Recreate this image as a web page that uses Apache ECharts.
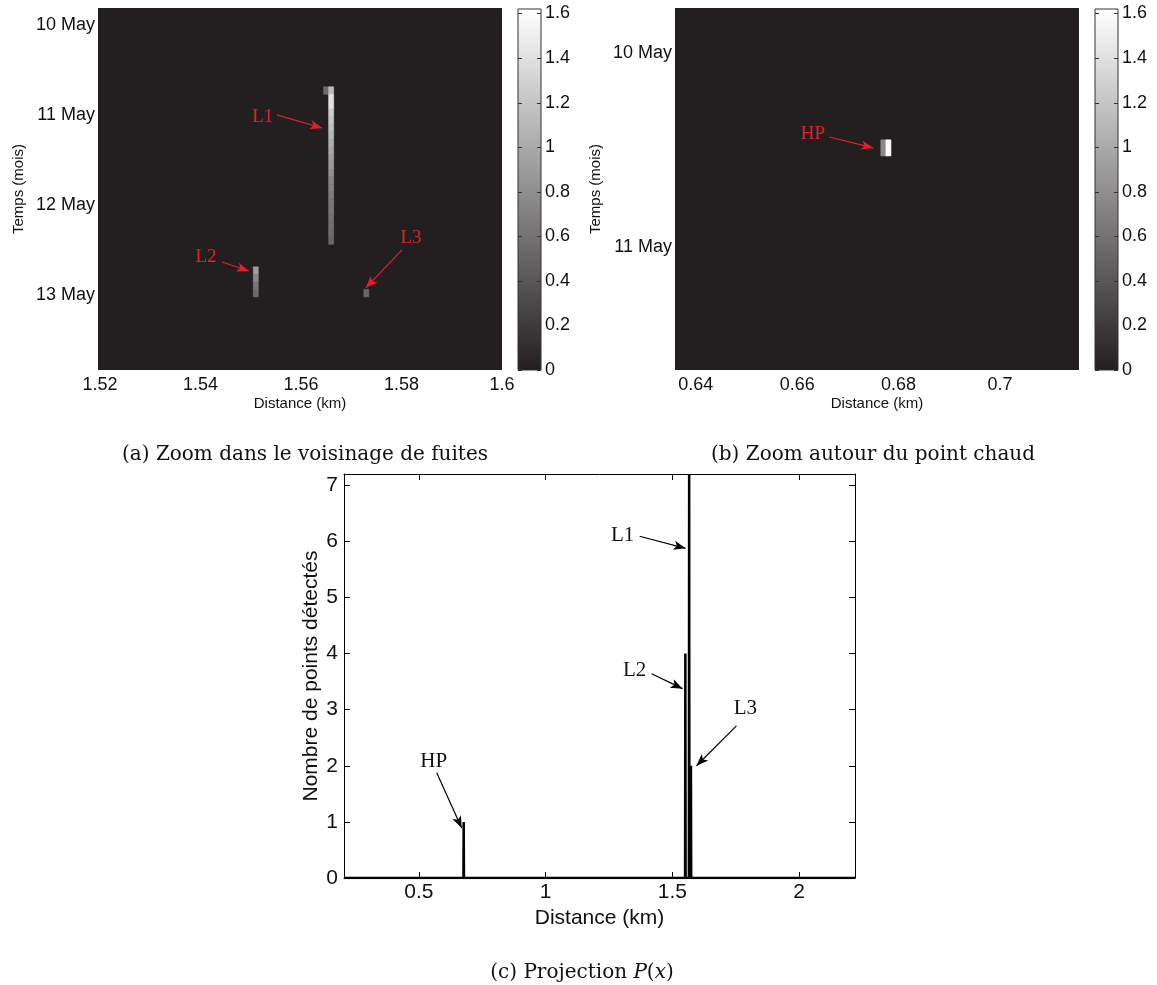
<!DOCTYPE html>
<html><head><meta charset="utf-8">
<script src="https://cdn.jsdelivr.net/npm/echarts@6/dist/echarts.min.js"></script>
<style>html,body{margin:0;padding:0;background:#fff}#c{width:1157px;height:985px}</style>
</head><body><div id="c"></div>
<script>
// ---------- Panel (a): leaks neighbourhood (distance km, start hour since 10 May 00:00, value)
const aCellDist = [1.565, 1.566, 1.566, 1.566, 1.566, 1.566, 1.566, 1.566, 1.566, 1.566, 1.566, 1.566,
  1.566, 1.566, 1.566, 1.566, 1.566, 1.566, 1.566, 1.566, 1.566, 1.566,
  1.551, 1.551, 1.551, 1.551, 1.573];
const aCellHour = [16.5, 16.5, 18.5, 20.5, 22.5, 24.5, 26.5, 28.5, 30.5, 32.5, 34.5, 36.5,
  38.5, 40.5, 42.5, 44.5, 46.5, 48.5, 50.5, 52.5, 54.5, 56.5,
  64.5, 66.5, 68.5, 70.5, 70.5];
const aCellValue = [0.55, 1.14, 1.40, 1.40, 1.27, 1.21, 1.16, 1.10, 1.04, 0.98, 0.92, 0.88,
  0.82, 0.74, 0.72, 0.68, 0.64, 0.63, 0.60, 0.57, 0.55, 0.52,
  0.92, 0.77, 0.64, 0.55, 0.52];
const aXTicks = [1.52, 1.54, 1.56, 1.58, 1.6];
const aXLabels = ['1.52', '1.54', '1.56', '1.58', '1.6'];
const aYTicks = [0, 24, 48, 72];
const aYLabels = ['10 May', '11 May', '12 May', '13 May'];

// ---------- Panel (b): hot point
const bCellDist = [0.677, 0.678];
const bCellHour = [10.75, 10.75];
const bCellValue = [0.76, 1.6];
const bXTicks = [0.64, 0.66, 0.68, 0.7];
const bXLabels = ['0.64', '0.66', '0.68', '0.7'];
const bYTicks = [0, 24];
const bYLabels = ['10 May', '11 May'];

// ---------- Colorbar
const cbTicks = [0, 0.2, 0.4, 0.6, 0.8, 1, 1.2, 1.4, 1.6];
const cbLabels = ['0', '0.2', '0.4', '0.6', '0.8', '1', '1.2', '1.4', '1.6'];

// ---------- Panel (c): projection P(x)
const projDistance = [0.205, 0.676, 0.677, 0.678, 1.550, 1.551, 1.552, 1.565, 1.566, 1.567, 1.572, 1.573, 1.574, 2.22];
const projCount    = [0,     0,     1,     0,     0,     4,     0,     0,     7.2,   0,     0,     2,     0,     0];
const cXTicks = [0.5, 1, 1.5, 2];
const cXLabels = ['0.5', '1', '1.5', '2'];
const cYTicks = [0, 1, 2, 3, 4, 5, 6, 7];
const cYLabels = ['0', '1', '2', '3', '4', '5', '6', '7'];

const DARK = '#231f20';
const RED = '#e3202a';
const SANS = 'Liberation Sans';
const SERIF = 'Liberation Serif';
const CAP_SERIF = 'DejaVu Serif';
const CELL_W = 0.001, CELL_H = 2;

function cells(d, h, v) { return d.map((x, i) => [x, h[i], v[i]]); }
function lab(ticks, labels) { return v => { const i = ticks.findIndex(t => Math.abs(t - v) < 1e-9); return i < 0 ? '' : labels[i]; }; }

function cellRender(params, api) {
  const x = api.value(0), h = api.value(1);
  const p0 = api.coord([x - CELL_W / 2, h]);
  const p1 = api.coord([x + CELL_W / 2, h + CELL_H]);
  const c = api.visual('color');
  return { type: 'rect', shape: { x: Math.min(p0[0], p1[0]), y: Math.min(p0[1], p1[1]),
    width: Math.abs(p1[0] - p0[0]), height: Math.abs(p1[1] - p0[1]) },
    style: { fill: c, stroke: c, lineWidth: 0.6 } };
}
function cbRender(params, api) {
  const p0 = api.coord([0, 0]);
  const p1 = api.coord([1, api.value(1)]);
  return { type: 'rect', shape: { x: p0[0], y: p1[1], width: p1[0] - p0[0], height: p0[1] - p1[1] },
    style: { fill: new echarts.graphic.LinearGradient(0, 1, 0, 0, [{ offset: 0, color: DARK }, { offset: 1, color: '#ffffff' }]) } };
}
function cbTickRender(params, api) {
  const v = api.value(1);
  const l = api.coord([0, v]), r = api.coord([1, v]);
  const y = Math.round(l[1]) + 0.5;
  const st = { stroke: '#333', lineWidth: 1 };
  return { type: 'group', children: [
    { type: 'line', shape: { x1: l[0], y1: y, x2: l[0] + 4, y2: y }, style: st },
    { type: 'line', shape: { x1: r[0] - 4, y1: y, x2: r[0], y2: y }, style: st }
  ] };
}

const tickFont = { fontFamily: SANS, fontSize: 18, color: '#111' };
const nameFont = { fontFamily: SANS, fontSize: 15, color: '#111' };

function heatX(gridIndex, min, max, ticks, labels) {
  return { type: 'value', gridIndex, min, max, name: 'Distance (km)', nameLocation: 'middle', nameGap: 26,
    nameTextStyle: nameFont, splitLine: { show: false }, axisLine: { show: false }, axisTick: { show: false },
    axisLabel: Object.assign({ customValues: ticks, formatter: lab(ticks, labels), margin: 6 }, tickFont) };
}
function heatY(gridIndex, min, max, ticks, labels) {
  return { type: 'value', gridIndex, min, max, inverse: true, name: 'Temps (mois)', nameLocation: 'middle', nameGap: 72,
    nameTextStyle: nameFont, splitLine: { show: false }, axisLine: { show: false }, axisTick: { show: false },
    axisLabel: Object.assign({ customValues: ticks, formatter: lab(ticks, labels), margin: 3 }, tickFont) };
}
function cbX(gridIndex) { return { type: 'value', gridIndex, min: 0, max: 1, show: false }; }
function cbY(gridIndex) {
  return { type: 'value', gridIndex, min: 0, max: 1.62, position: 'right',
    splitLine: { show: false }, axisLine: { show: false }, axisTick: { show: false },
    axisLabel: Object.assign({ customValues: cbTicks, formatter: lab(cbTicks, cbLabels), margin: 4 }, tickFont) };
}

const bigTick = { fontFamily: SANS, fontSize: 21, color: '#111' };
const bigName = { fontFamily: SANS, fontSize: 21, color: '#111' };
function cAxisX(pos) {
  return { type: 'value', gridIndex: 4, min: 0.205, max: 2.22, position: pos,
    name: pos === 'bottom' ? 'Distance (km)' : '', nameLocation: 'middle', nameGap: 30, nameTextStyle: bigName,
    splitLine: { show: false }, axisLine: { show: true, onZero: false, lineStyle: { color: '#000', width: 1 } },
    axisTick: { show: true, inside: true, length: 6, customValues: cXTicks, lineStyle: { color: '#000' } },
    axisLabel: Object.assign({ show: pos === 'bottom', customValues: cXTicks, formatter: lab(cXTicks, cXLabels), margin: 4 }, bigTick) };
}
function cAxisY(pos) {
  return { type: 'value', gridIndex: 4, min: 0, max: 7.2, position: pos,
    name: pos === 'left' ? 'Nombre de points détectés' : '', nameLocation: 'middle', nameGap: 22, nameTextStyle: bigName,
    splitLine: { show: false }, axisLine: { show: true, onZero: false, lineStyle: { color: '#000', width: 1 } },
    axisTick: { show: true, inside: true, length: 6, customValues: cYTicks, lineStyle: { color: '#000' } },
    axisLabel: Object.assign({ show: pos === 'left', customValues: cYTicks, formatter: lab(cYTicks, cYLabels), margin: 6 }, bigTick) };
}

function arrows(list, color) {
  return { silent: true, symbol: ['none', 'arrow'], symbolSize: [7, 12], label: { show: false },
    lineStyle: { color, width: 1.2, type: 'solid' }, emphasis: { disabled: true }, animation: false,
    data: list.map(a => [{ coord: a[0] }, { coord: a[1] }]) };
}
function texts(list, color, size) {
  return { silent: true, symbol: 'circle', symbolSize: 1, itemStyle: { color: 'rgba(0,0,0,0)' }, animation: false,
    label: { show: true, position: 'inside', formatter: '{b}', color, fontFamily: SERIF, fontSize: size },
    data: list.map(t => ({ name: t[0], coord: t[1] })) };
}

const capStyle = { fontFamily: CAP_SERIF, fontSize: 20, fontWeight: 'normal', color: '#111' };
const option = {
  animation: false,
  backgroundColor: '#fff',
  title: [
    { text: '(a) Zoom dans le voisinage de fuites', left: 300, top: 440, textAlign: 'center', textStyle: capStyle },
    { text: '(b) Zoom autour du point chaud', left: 868, top: 440, textAlign: 'center', textStyle: capStyle },
    { text: '(c) Projection {i|P}({i|x})', left: 577, top: 958, textAlign: 'center',
      textStyle: Object.assign({ rich: { i: Object.assign({}, capStyle, { fontStyle: 'italic' }) } }, capStyle) }
  ],
  visualMap: { type: 'continuous', show: false, min: 0, max: 1.62, dimension: 2, seriesIndex: [0, 1],
    inRange: { color: [DARK, '#ffffff'] } },
  grid: [
    { left: 98, top: 8, width: 404, height: 362, show: true, backgroundColor: DARK, borderWidth: 0 },
    { left: 518, top: 9, width: 23, height: 361, show: true, borderColor: '#333', borderWidth: 1, z: 5 },
    { left: 675, top: 8, width: 404, height: 362, show: true, backgroundColor: DARK, borderWidth: 0 },
    { left: 1095, top: 9, width: 23, height: 361, show: true, borderColor: '#333', borderWidth: 1, z: 5 },
    { left: 344, top: 474, width: 511, height: 404 }
  ],
  xAxis: [
    heatX(0, 1.5196, 1.6, aXTicks, aXLabels),
    cbX(1),
    heatX(2, 0.6359, 0.7156, bXTicks, bXLabels),
    cbX(3),
    cAxisX('bottom'),
    cAxisX('top')
  ],
  yAxis: [
    heatY(0, -4.5, 92, aYTicks, aYLabels),
    cbY(1),
    heatY(2, -5.6, 39.3, bYTicks, bYLabels),
    cbY(3),
    cAxisY('left'), cAxisY('right')
  ],
  series: [
    { type: 'custom', xAxisIndex: 0, yAxisIndex: 0, clip: true, renderItem: cellRender,
      data: cells(aCellDist, aCellHour, aCellValue),
      markLine: arrows([
        [[1.5552, 24], [1.5642, 27.5]],
        [[1.5443, 63.2], [1.5496, 65.6]],
        [[1.5801, 60], [1.5729, 70.1]]
      ], RED),
      markPoint: texts([['L1', [1.5524, 24.5]], ['L2', [1.5411, 61.9]], ['L3', [1.5819, 56.8]]], RED, 19) },
    { type: 'custom', xAxisIndex: 2, yAxisIndex: 2, clip: true, renderItem: cellRender,
      data: cells(bCellDist, bCellHour, bCellValue),
      markLine: arrows([[[0.6663, 10.4], [0.6750, 11.75]]], RED),
      markPoint: texts([['HP', [0.6631, 10.0]]], RED, 19) },
    { type: 'custom', xAxisIndex: 1, yAxisIndex: 1, z: 1, renderItem: cbRender, data: [[0, 1.62]] },
    { type: 'custom', xAxisIndex: 3, yAxisIndex: 3, z: 1, renderItem: cbRender, data: [[0, 1.62]] },
    { type: 'custom', xAxisIndex: 1, yAxisIndex: 1, z: 3, renderItem: cbTickRender, data: cbTicks.map(v => [0, v]) },
    { type: 'custom', xAxisIndex: 3, yAxisIndex: 3, z: 3, renderItem: cbTickRender, data: cbTicks.map(v => [0, v]) },
    { type: 'line', xAxisIndex: 4, yAxisIndex: 4, showSymbol: false, clip: true,
      lineStyle: { color: '#000', width: 2.5 }, itemStyle: { color: '#000' },
      data: projDistance.map((d, i) => [d, projCount[i]]),
      markLine: arrows([
        [[1.3707, 6.09], [1.5520, 5.875]],
        [[1.418, 3.64], [1.540, 3.375]],
        [[1.7526, 2.71], [1.595, 2.0]],
        [[0.5706, 1.875], [0.669, 0.89]]
      ], '#000'),
      markPoint: texts([['L1', [1.3037, 6.11]], ['L2', [1.351, 3.70]], ['L3', [1.788, 3.02]], ['HP', [0.559, 2.07]]], '#111', 21) }
  ]
};
const chart = echarts.init(document.getElementById('c'), null, { renderer: 'canvas' });
chart.setOption(option);
</script>
</body></html>
